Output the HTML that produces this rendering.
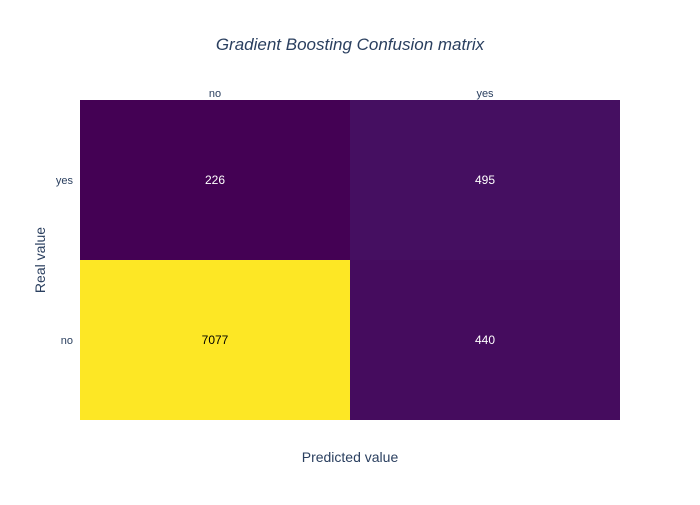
<!DOCTYPE html>
<html><head><meta charset="utf-8"><style>
body{margin:0;background:#fff;}
svg text{font-family:"Liberation Sans",sans-serif;}
</style></head><body>
<svg id="chart" width="700" height="500">
<rect width="700" height="500" fill="#fff"/>
<text x="350" y="50" text-anchor="middle" font-size="17" font-style="italic" fill="#2a3f5f">Gradient Boosting Confusion matrix</text>
<g id="cells"></g>
<text x="350" y="462" text-anchor="middle" font-size="14" fill="#2a3f5f">Predicted value</text>
<text transform="translate(45,260) rotate(-90)" text-anchor="middle" font-size="14" fill="#2a3f5f">Real value</text>
</svg>
<script>
const xCats = ["no", "yes"];
const yCats = ["yes", "no"];
const zRowYes = [226, 495];
const zRowNo = [7077, 440];
const zValues = [zRowYes, zRowNo];

const L = 80, R = 620, T = 100, B = 420;
const cw = (R - L) / xCats.length, ch = (B - T) / yCats.length;
const xPos = i => L + i * cw;
const yPos = j => T + j * ch;
const viridis = ["#440154","#482878","#3e4989","#31688e","#26828e","#1f9e89","#35b779","#6ece58","#b5de2b","#fde725"];
function hex(c){return [1,3,5].map(i=>parseInt(c.substr(i,2),16));}
function color(t){
  t=Math.max(0,Math.min(1,t));const s=t*(viridis.length-1);const i=Math.min(Math.floor(s),viridis.length-2);const f=s-i;
  const a=hex(viridis[i]),b=hex(viridis[i+1]);
  return "rgb("+a.map((v,k)=>Math.round(v+(b[k]-v)*f)).join(",")+")";
}
const all = zValues.flat();
const zmin = Math.min(...all), zmax = Math.max(...all);
const g = document.getElementById("cells");
const NS = "http://www.w3.org/2000/svg";
zValues.forEach((row, j) => row.forEach((v, i) => {
  const t = (v - zmin) / (zmax - zmin);
  const r = document.createElementNS(NS, "rect");
  r.setAttribute("x", xPos(i)); r.setAttribute("y", yPos(j));
  r.setAttribute("width", cw); r.setAttribute("height", ch);
  r.setAttribute("fill", color(t));
  
  
  g.appendChild(r);
  const tx = document.createElementNS(NS, "text");
  tx.setAttribute("x", xPos(i) + cw / 2); tx.setAttribute("y", yPos(j) + ch / 2 + 4);
  tx.setAttribute("text-anchor", "middle"); tx.setAttribute("font-size", "12");
  tx.setAttribute("fill", t > 0.5 ? "#000" : "#fff");
  tx.textContent = v;
  
  
  g.appendChild(tx);
}));
xCats.forEach((c, i) => {
  const tx = document.createElementNS(NS, "text");
  tx.setAttribute("x", xPos(i) + cw / 2); tx.setAttribute("y", 97);
  tx.setAttribute("text-anchor", "middle"); tx.setAttribute("font-size", "11"); tx.setAttribute("fill", "#2a3f5f");
  tx.textContent = c;
  
  
  g.appendChild(tx);
});
yCats.forEach((c, j) => {
  const tx = document.createElementNS(NS, "text");
  tx.setAttribute("x", 73); tx.setAttribute("y", yPos(j) + ch / 2 + 4);
  tx.setAttribute("text-anchor", "end"); tx.setAttribute("font-size", "11"); tx.setAttribute("fill", "#2a3f5f");
  tx.textContent = c;
  
  
  g.appendChild(tx);
});
</script>
</body></html>
